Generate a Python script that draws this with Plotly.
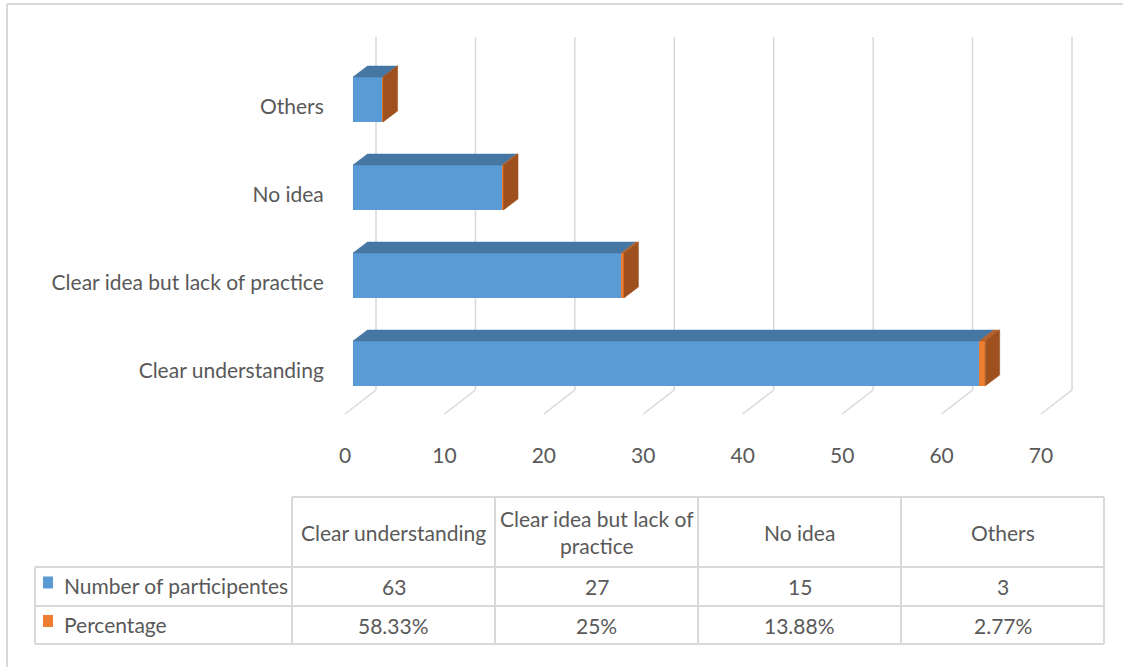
import textwrap
import plotly.graph_objects as go

# ---------------- data ----------------
categories = ["Clear understanding", "Clear idea but lack of practice", "No idea", "Others"]
participants = [63, 27, 15, 3]
percentages = [58.33, 25, 13.88, 2.77]
series_names = ["Number of participentes", "Percentage"]
x_ticks = [0, 10, 20, 30, 40, 50, 60, 70]

# ---------------- style / geometry ----------------
W, H = 1123, 667
FONT = "Lato"
FS = 21
TXT = "#595959"
GRID = "#D9D9D9"
BLUE, BLUE_TOP = "#5B9BD5", "#4676A2"
ORANGE, ORANGE_TOP, ORANGE_SIDE = "#ED7D31", "#B4602A", "#9E511F"

X0_PX, SX = 353.0, 9.943      # front plane: value 0 pixel, px per unit
Y0_PX, SY = 363.5, 88.0       # centre of first category, px per category
DOM_X = (330, 1090)
DOM_Y = (25, 425)
BAR_H_PX = 45
DEPTH_DX, DEPTH_DY = 14.5, 11.0   # bar depth offset (px)
WALL_DX = 23.0                    # back wall offset (px)
WALL_TOP, WALL_BOT, FLOOR_FRONT = 37, 390, 414
FLOOR_DX = -31.0
LABEL_DROP = 7.0
XLABEL_SHIFT = -8.0


def ux(px):
    return px / SX


def uy_at(py):
    return (Y0_PX - py) / SY


def px(x):
    return x / W


def py(y):
    return 1 - y / H


x_range = [ux(DOM_X[0] - X0_PX), ux(DOM_X[1] - X0_PX)]
y_range = [uy_at(DOM_Y[1]), uy_at(DOM_Y[0])]

idx = list(range(len(categories)))
bar_w = BAR_H_PX / SY
pct_vals = [p / 100 for p in percentages]

fig = go.Figure()
fig.add_trace(go.Bar(y=idx, x=participants, orientation="h", width=bar_w,
                     marker=dict(color=BLUE, line=dict(width=0)),
                     name=series_names[0], hoverinfo="skip"))
fig.add_trace(go.Bar(y=idx, x=pct_vals, orientation="h", width=bar_w,
                     marker=dict(color=ORANGE, line=dict(width=0)),
                     name=series_names[1], hoverinfo="skip"))

ddx, ddy = ux(DEPTH_DX), DEPTH_DY / SY


def face(xs, ys, color):
    fig.add_trace(go.Scatter(x=xs + [xs[0]], y=ys + [ys[0]], mode="lines",
                             fill="toself", fillcolor=color,
                             line=dict(width=0.5, color=color),
                             hoverinfo="skip", showlegend=False))


for i, n, p in zip(idx, participants, pct_vals):
    top, bot = i + bar_w / 2, i - bar_w / 2
    face([0, n, n + ddx, ddx], [top, top, top + ddy, top + ddy], BLUE_TOP)
    face([n, n + p, n + p + ddx, n + ddx], [top, top, top + ddy, top + ddy], ORANGE_TOP)
    e = n + p
    face([e, e, e + ddx, e + ddx], [bot, top, top + ddy, bot + ddy], ORANGE_SIDE)

shapes = []
# back wall verticals and floor diagonals
for v in x_ticks:
    bx = v + ux(WALL_DX)
    fx = bx + ux(FLOOR_DX)
    shapes.append(dict(type="line", xref="x", yref="y", layer="below",
                       x0=bx, x1=bx, y0=uy_at(WALL_TOP), y1=uy_at(WALL_BOT),
                       line=dict(color=GRID, width=1.5)))
    shapes.append(dict(type="line", xref="x", yref="y", layer="below",
                       x0=bx, x1=fx, y0=uy_at(WALL_BOT), y1=uy_at(FLOOR_FRONT),
                       line=dict(color=GRID, width=1.5)))

# outer chart border (left/top visible)
shapes.append(dict(type="line", xref="paper", yref="paper", x0=px(7), x1=px(W + 10),
                   y0=py(4), y1=py(4), line=dict(color=GRID, width=2)))
shapes.append(dict(type="line", xref="paper", yref="paper", x0=px(7), x1=px(7),
                   y0=py(4), y1=py(H + 10), line=dict(color=GRID, width=2)))

# data table
col_x = [292, 495, 698, 901, 1104]
row_y = [497, 567, 606, 644]
leg_x = 35
TL = dict(color=GRID, width=2)


def hline(y, x0, x1):
    shapes.append(dict(type="line", xref="paper", yref="paper",
                       x0=px(x0), x1=px(x1), y0=py(y), y1=py(y), line=TL))


def vline(x, y0, y1):
    shapes.append(dict(type="line", xref="paper", yref="paper",
                       x0=px(x), x1=px(x), y0=py(y0), y1=py(y1), line=TL))


hline(row_y[0], col_x[0], col_x[-1])
for y in row_y[1:]:
    hline(y, leg_x, col_x[-1])
vline(leg_x, row_y[1], row_y[-1])
for x in col_x:
    vline(x, row_y[0], row_y[-1])

annotations = []


def txt(x, y, s, anchor="center"):
    annotations.append(dict(x=px(x), y=py(y), xref="paper", yref="paper", text=s,
                            showarrow=False, xanchor=anchor, yanchor="middle",
                            align="center", font=dict(family=FONT, size=FS, color=TXT)))


for j, cat in enumerate(categories):
    cx = (col_x[j] + col_x[j + 1]) / 2
    txt(cx, (row_y[0] + row_y[1]) / 2, "<br>".join(textwrap.wrap(cat, 22)))
    txt(cx, (row_y[1] + row_y[2]) / 2, str(participants[j]))
    txt(cx, (row_y[2] + row_y[3]) / 2, f"{percentages[j]:g}%")

for k, (name, col) in enumerate(zip(series_names, [BLUE, ORANGE])):
    yc = (row_y[1 + k] + row_y[2 + k]) / 2
    shapes.append(dict(type="rect", xref="paper", yref="paper",
                       x0=px(43), x1=px(53), y0=py(yc + 2), y1=py(yc - 10),
                       fillcolor=col, line=dict(width=0)))
    txt(62, yc - 1, name, anchor="left")

fig.update_layout(
    width=W, height=H, barmode="stack", showlegend=False,
    paper_bgcolor="white", plot_bgcolor="rgba(0,0,0,0)",
    margin=dict(l=0, r=0, t=0, b=0),
    font=dict(family=FONT, size=FS, color=TXT),
    xaxis=dict(domain=[px(DOM_X[0]), px(DOM_X[1])], range=x_range,
               showgrid=False, zeroline=False, showline=False,
               tickmode="array", tickvals=[v + ux(XLABEL_SHIFT) for v in x_ticks],
               ticktext=[str(v) for v in x_ticks],
               ticks="outside", ticklen=12, tickcolor="rgba(0,0,0,0)",
               tickfont=dict(family=FONT, size=FS, color=TXT), fixedrange=True),
    yaxis=dict(domain=[py(DOM_Y[1]), py(DOM_Y[0])], range=y_range,
               showgrid=False, zeroline=False, showline=False,
               tickmode="array", tickvals=[i - LABEL_DROP / SY for i in idx],
               ticktext=categories,
               ticks="outside", ticklen=1, tickcolor="rgba(0,0,0,0)",
               tickfont=dict(family=FONT, size=FS, color=TXT), fixedrange=True),
    shapes=shapes, annotations=annotations,
)

fig.write_html("out.html")
